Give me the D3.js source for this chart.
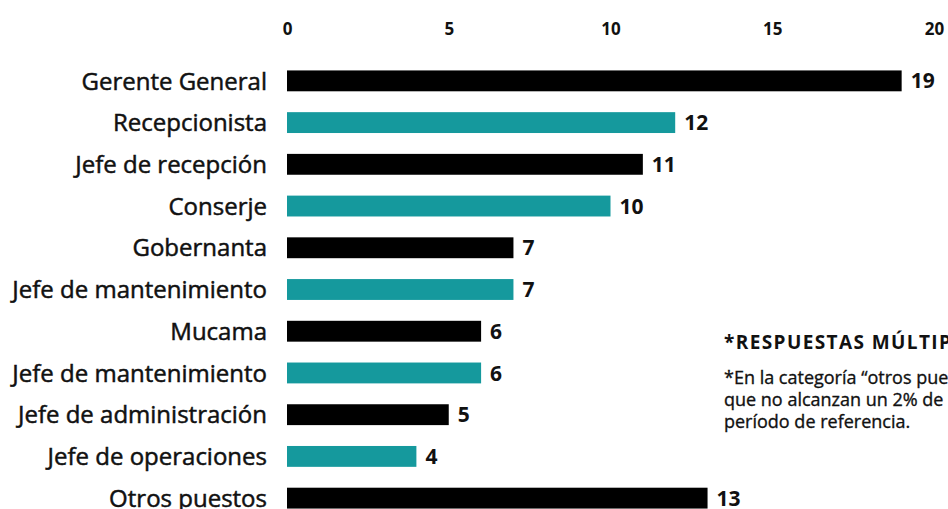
<!DOCTYPE html>
<html>
<head>
<meta charset="utf-8">
<script src="https://cdn.jsdelivr.net/npm/d3@7"></script>
<style>
  html, body { margin: 0; padding: 0; background: #fff; overflow: hidden; }
  svg { display: block; font-family: "Open Sans", "Noto Sans", sans-serif; }
</style>
</head>
<body>
<svg id="chart" width="948" height="509"></svg>
<script>
// Puestos mencionados y cantidad de respuestas
const categories = [
  "Gerente General", "Recepcionista", "Jefe de recepción", "Conserje",
  "Gobernanta", "Jefe de mantenimiento", "Mucama", "Jefe de mantenimiento",
  "Jefe de administración", "Jefe de operaciones", "Otros puestos"
];
const values = [19, 12, 11, 10, 7, 7, 6, 6, 5, 4, 13];
const tickValues = [0, 5, 10, 15, 20];
const noteTitle = "*RESPUESTAS MÚLTIPLES";
const noteLines = [
  "*En la categoría “otros puestos” se agrupan los cargos",
  "que no alcanzan un 2% de las menciones en el",
  "período de referencia."
];

const svg = d3.select("#chart");
const rows = categories.map((c, i) => ({ id: i, name: c, value: values[i] }));

const x = d3.scaleLinear().domain([0, 20]).range([287, 934]);
const y = d3.scaleBand()
  .domain(rows.map(d => d.id))
  .range([60, 519])
  .paddingInner(0.5)
  .paddingOuter(0.25);

const colors = ["#000000", "#15999d"];

// Eje superior: solo etiquetas
const axis = d3.axisTop(x).tickValues(tickValues).tickSize(0).tickPadding(0);
const gAxis = svg.append("g").attr("transform", "translate(0,35)").call(axis);
gAxis.select(".domain").remove();
gAxis.selectAll("text")
  .attr("font-family", "'Open Sans', sans-serif")
  .attr("font-size", 17)
  .attr("font-weight", 700)
  .attr("fill", "#111");

// Etiquetas de categoría (trazo fino para un peso medio)
svg.append("g").selectAll("text")
  .data(rows).join("text")
  .attr("x", 267)
  .attr("y", d => y(d.id) + y.bandwidth() / 2)
  .attr("dy", "0.36em")
  .attr("text-anchor", "end")
  .attr("font-size", 24)
  .attr("fill", "#111")
  .attr("stroke", "#111")
  .attr("stroke-width", 0.5)
  .text(d => d.name);

// Barras
svg.append("g").selectAll("rect")
  .data(rows).join("rect")
  .attr("x", x(0))
  .attr("y", d => y(d.id))
  .attr("width", d => x(d.value) - x(0))
  .attr("height", y.bandwidth())
  .attr("fill", (d, i) => colors[i % 2]);

// Valores
svg.append("g").selectAll("text")
  .data(rows).join("text")
  .attr("x", d => x(d.value) + 9)
  .attr("y", d => y(d.id) + y.bandwidth() / 2)
  .attr("dy", "0.36em")
  .attr("font-size", 21)
  .attr("font-weight", 700)
  .attr("fill", "#111")
  .text(d => d.value);

// Nota
const note = svg.append("g").attr("transform", "translate(724,0)");
note.append("text")
  .attr("x", 0).attr("y", 349)
  .attr("font-size", 19)
  .attr("font-weight", 700)
  .attr("letter-spacing", 1.4)
  .attr("fill", "#111")
  .text(noteTitle);
note.selectAll("text.line")
  .data(noteLines).join("text")
  .attr("class", "line")
  .attr("x", 0)
  .attr("y", (d, i) => 384 + i * 22)
  .attr("font-size", 18)
  .attr("fill", "#111")
  .attr("stroke", "#111")
  .attr("stroke-width", 0.35)
  .text(d => d);
</script>
</body>
</html>
